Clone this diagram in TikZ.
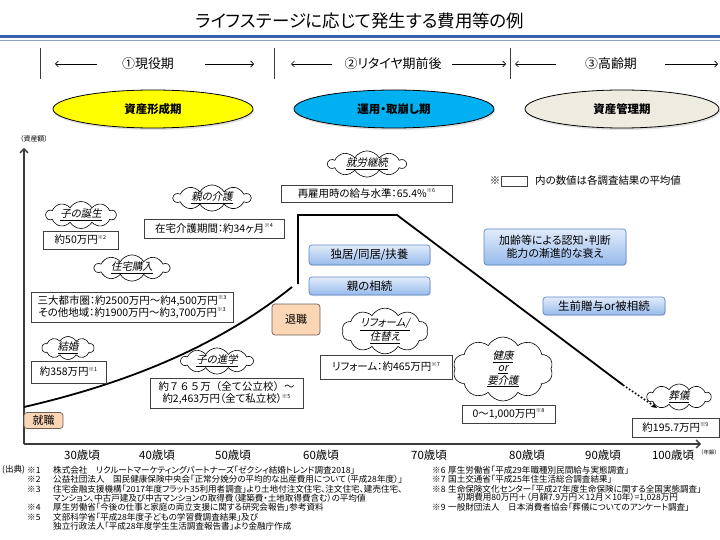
\documentclass[tikz,border=0pt]{standalone}
\usepackage{fontspec}
\setmainfont{Noto Sans CJK JP}[RawFeature=+palt]
\newfontfamily\jpfw{Noto Sans CJK JP}
\newfontfamily\jpit{Noto Sans CJK JP}[FakeSlant=0.2,RawFeature=+palt]
\usetikzlibrary{shapes.geometric,shapes.symbols,shadows,arrows.meta}
\newcommand\fs[2]{\fontsize{#1}{#2}\selectfont}
\newcommand\nt[1]{\raisebox{0.45em}{\fs{5.5}{6}※#1}}
\definecolor{boxc}{RGB}{64,64,64}
\definecolor{titleblue}{RGB}{55,96,170}
\definecolor{titleblue2}{RGB}{140,160,200}
\definecolor{yellowc}{RGB}{255,255,0}
\definecolor{cyanc}{RGB}{0,176,240}
\definecolor{beigec}{RGB}{238,236,225}
\definecolor{bluet}{RGB}{226,236,250}
\definecolor{blueb}{RGB}{150,186,236}
\definecolor{bluec}{RGB}{95,135,200}
\definecolor{peachf}{RGB}{250,214,180}
\definecolor{peachb}{RGB}{110,95,85}
\definecolor{axisc}{RGB}{60,60,60}
\tikzset{
  box/.style={draw=boxc, line width=0.8bp, fill=white, inner sep=0, align=center, font=\fs{10.5}{12.5}},
  bluebox/.style={draw=bluec, line width=0.7bp, rounded corners=3bp, top color=bluet, bottom color=blueb, inner sep=0, align=center, font=\fs{11.5}{13.5}, drop shadow={opacity=0.2, shadow xshift=0.8bp, shadow yshift=-1.2bp}},
  peach/.style={draw=peachb, line width=0.7bp, fill=peachf, rounded corners=3bp, inner sep=0, font=\fs{11}{13}},
  cloudn/.style={cloud, cloud puffs=10, cloud puff arc=120, cloud ignores aspect, draw=black, line width=0.6bp, fill=white, inner sep=0, align=center, font=\jpit\fs{10.5}{12.5}},
  phase/.style={ellipse, draw=black, line width=0.8bp, minimum width=200bp, minimum height=38bp, inner sep=0, font=\bfseries\fs{11.5}{13}, drop shadow={opacity=0.25, shadow xshift=1bp, shadow yshift=-2bp}},
  hdr/.style={line width=0.6bp, -{Straight Barb[length=3bp,width=6bp]}},
  bar/.style={line width=0.7bp, draw=axisc},
  axis/.style={line width=1.3bp, draw=axisc, -{Straight Barb[length=4bp,width=8bp]}},
  life/.style={line width=1.8bp, draw=black},
  age/.style={font=\fs{11.5}{13}},
  foot/.style={anchor=west, inner sep=0, font=\fs{8.6}{9.5}}
}
\begin{document}
\begin{tikzpicture}[x=1bp,y=-1bp]
\useasboundingbox (0,0) rectangle (720,540);
% title
\node[font=\fs{17.5}{20}] (title) at (360,21) {ライフステージに応じて発生する費用等の例};
\draw[line width=2.2bp, titleblue] (0,36.5) -- (720,36.5);
\draw[line width=0.9bp, titleblue2] (0,40.5) -- (720,40.5);
% header
\draw[bar] (40,48) -- (40,79);
\draw[bar] (274,48) -- (274,79);
\draw[bar] (510,48) -- (510,79);
\node[font=\fs{13}{15}] (h1) at (148,64) {①現役期};
\node[font=\fs{13}{15}] (h2) at (393,64) {②リタイヤ期前後};
\node[font=\fs{13}{15}] (h3) at (611,64) {③高齢期};
\draw[hdr] (97,64) -- (55,64);
\draw[hdr] (205,64) -- (254,64);
\draw[hdr] (332,64) -- (291,64);
\draw[hdr] (452,64) -- (506,64);
\draw[hdr] (556,64) -- (515,64);
\draw[hdr] (665,64) -- (718,64);
% phases
\node[phase, fill=yellowc] (e1) at (153,109) {資産形成期};
\node[phase, fill=cyanc] (e2) at (394,109) {運用・取崩し期};
\node[phase, fill=beigec, minimum width=194bp] (e3) at (622,109) {資産管理期};
% axes
\node[font=\fs{7}{8}] (ylab) at (34,139) {（資産額）};
\coordinate (o) at (24,444);
\coordinate (ytip) at (24,148);
\coordinate (xtip) at (701,444);
\draw[axis] (o) -- (ytip);
\draw[axis] (o) -- (xtip);
\node[age] (a30) at (82,455) {30歳頃};
\node[age] (a40) at (157,455) {40歳頃};
\node[age] (a50) at (233,455) {50歳頃};
\node[age] (a60) at (321,455) {60歳頃};
\node[age] (a70) at (429,455) {70歳頃};
\node[age] (a80) at (527,455) {80歳頃};
\node[age] (a90) at (603,455) {90歳頃};
\node[age] (a100) at (673,455) {100歳頃};
\node[font=\fs{5.5}{6}] (alab) at (709,452) {（年齢）};
% life curve
\coordinate (c0) at (24,407);
\coordinate (c1) at (292,287);
\coordinate (p0) at (298,284);
\coordinate (p1) at (298,215);
\coordinate (p2) at (397,215);
\coordinate (p3) at (623,385);
\coordinate (p4) at (657,408);
\draw[life] (c0) .. controls (150,378) and (232,335) .. (c1);
\draw[life, line join=miter] (p0) -- (p1) -- (p2) -- (p3);
\draw[line width=1.6bp, dotted, -{Stealth[length=6bp,width=5bp]}] (p3) -- (p4);
% left boxes
\node[cloudn, minimum width=70bp, minimum height=27bp] (cbirth) at (81,215) {\underline{子の誕生}};
\node[box, minimum width=75bp, minimum height=18bp] (bbirth) at (80.5,240) {約50万円\nt{2}};
\node[cloudn, minimum width=77bp, minimum height=26bp] (ccare) at (212,198) {\underline{親の介護}};
\node[box, minimum width=140bp, minimum height=19bp] (bcare) at (214,228.5) {在宅介護期間：約34ヶ月\nt{4}};
\node[cloudn, minimum width=75bp, minimum height=25bp] (chouse) at (132,268) {\underline{住宅購入}};
\node[box, minimum width=202bp, minimum height=30bp] (bhouse) at (132,307) {三大都市圏：約2500万円～約4,500万円\nt{3}\\その他地域：約1900万円～約3,700万円\nt{3}};
\node[cloudn, minimum width=52bp, minimum height=23bp] (cmarry) at (68,348) {\underline{結婚}};
\node[box, minimum width=75bp, minimum height=22bp] (bmarry) at (68.5,372) {約358万円\nt{1}};
\node[peach, minimum width=39bp, minimum height=16bp] (job) at (43.5,420.5) {就職};
\node[cloudn, minimum width=72bp, minimum height=22bp] (cedu) at (217,361) {\underline{子の進学}};
\node[box, minimum width=153bp, minimum height=30bp] (bedu) at (226.5,393) {{\jpfw 約７６５万（全て公立校）～}\\約2,463万円（全て私立校）\nt{5}};
% middle
\node[peach, minimum width=48bp, minimum height=31bp] (retire) at (296,319.5) {退職};
\node[cloudn, minimum width=78bp, minimum height=20bp] (cwork) at (367,164) {\underline{就労継続}};
\node[box, minimum width=171bp, minimum height=17bp] (bwork) at (366.5,193.5) {再雇用時の給与水準：65.4\%\nt{6}};
\node[bluebox, minimum width=121bp, minimum height=20bp] (alone) at (369.5,255) {独居/同居/扶養};
\node[bluebox, minimum width=121bp, minimum height=18bp] (inherit) at (369.5,286) {親の相続};
\node[cloudn, minimum width=86bp, minimum height=33bp] (creform) at (385,331) {\underline{リフォーム/}\\\underline{住替え}};
\node[box, minimum width=132bp, minimum height=24bp] (breform) at (386,367) {リフォーム：約465万円\nt{7}};
% right
\node[font=\fs{10.5}{12}, inner sep=0] (nstar) at (495,181) {※};
\node[draw=boxc, line width=0.8bp, minimum width=26bp, minimum height=10bp, inner sep=0] (nbox) at (514,181) {};
\node[anchor=west, inner sep=0, font=\fs{10.5}{12}] (ntext) at (535,181) {内の数値は各調査結果の平均値};
\node[bluebox, minimum width=142bp, minimum height=36bp, font=\fs{11}{13}] (aging) at (555,247) {加齢等による認知・判断\\能力の漸進的な衰え};
\node[bluebox, minimum width=122bp, minimum height=18bp] (gift) at (604,306) {生前贈与or被相続};
\node[cloudn, minimum width=100bp, minimum height=64bp] (chealth) at (503,369) {\underline{健康}\\\underline{or}\\\underline{要介護}};
\node[box, minimum width=93bp, minimum height=18bp] (bhealth) at (508.5,414) {0～1,000万円\nt{8}};
\node[cloudn, minimum width=64bp, minimum height=26bp] (cfuneral) at (679,397) {\underline{葬儀}};
\node[box, minimum width=87bp, minimum height=19bp] (bfuneral) at (675.5,427.5) {約195.7万円\nt{9}};
% footnotes
\node[foot] (src) at (2,470) {(出典)};
\node[foot] (f1) at (27,470) {※1};
\node[foot] (t1) at (53,470) {株式会社　リクルートマーケティングパートナーズ「ゼクシィ結婚トレンド調査2018」};
\node[foot] (f2) at (27,479.5) {※2};
\node[foot] (t2) at (53,479.5) {公益社団法人　国民健康保険中央会「正常分娩分の平均的な出産費用について（平成28年度）」};
\node[foot] (f3) at (27,489) {※3};
\node[foot] (t3) at (53,489) {住宅金融支援機構「2017年度フラット35利用者調査」より土地付注文住宅、注文住宅、建売住宅、};
\node[foot] (t3b) at (53,498) {マンション、中古戸建及び中古マンションの取得費（建築費・土地取得費含む）の平均値};
\node[foot] (f4) at (27,507.5) {※4};
\node[foot] (t4) at (53,507.5) {厚生労働省「今後の仕事と家庭の両立支援に関する研究会報告」参考資料};
\node[foot] (f5) at (27,517) {※5};
\node[foot] (t5) at (53,517) {文部科学省「平成28年度子どもの学習費調査結果」及び};
\node[foot] (t5b) at (53,526) {独立行政法人「平成28年度学生生活調査報告書」より金融庁作成};
\node[foot] (f6) at (432,470) {※6};
\node[foot] (t6) at (448,470) {厚生労働省「平成29年職種別民間給与実態調査」};
\node[foot] (f7) at (432,479.5) {※7};
\node[foot] (t7) at (448,479.5) {国土交通省「平成25年住生活総合調査結果」};
\node[foot] (f8) at (432,489) {※8};
\node[foot] (t8) at (448,489) {生命保険文化センター「平成27年度生命保険に関する全国実態調査」};
\node[foot] (t8b) at (457,498) {初期費用80万円＋（月額7.9万円×12月×10年）=1,028万円};
\node[foot] (f9) at (432,507.5) {※9};
\node[foot] (t9) at (448,507.5) {一般財団法人　日本消費者協会「葬儀についてのアンケート調査」};
\end{tikzpicture}
\end{document}
